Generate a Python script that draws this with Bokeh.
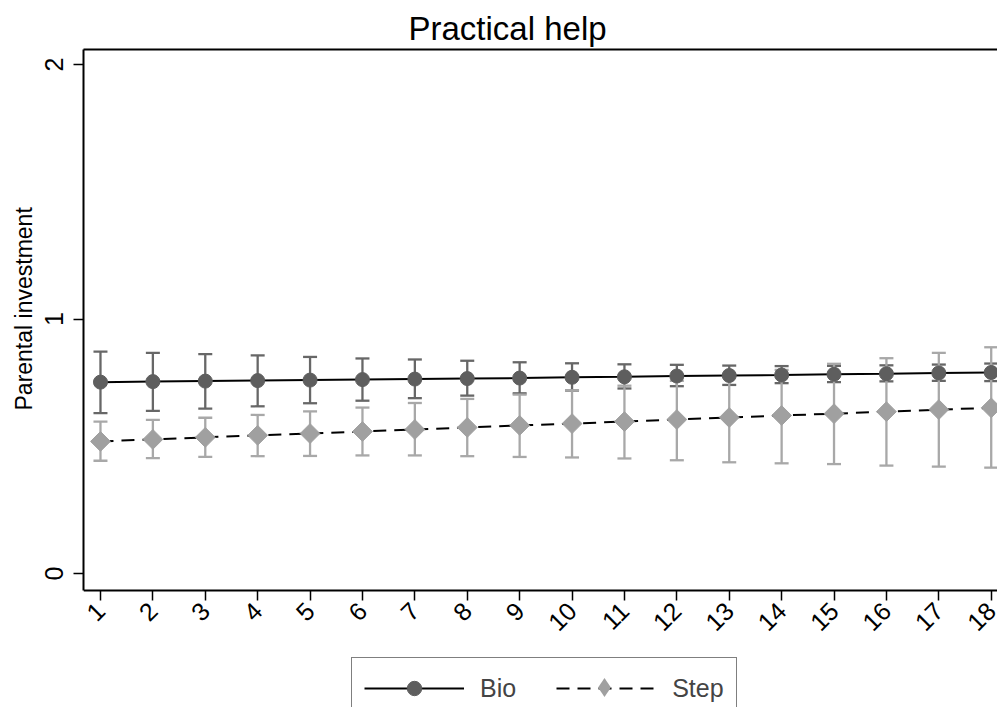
import math
from bokeh.plotting import figure
from bokeh.models import (ColumnDataSource, Range1d, FixedTicker, Whisker, TeeHead,
                          Legend, LegendItem, LinearAxis, Title)
from bokeh.embed import file_html
from bokeh.resources import INLINE

# ---- data ----
ages = list(range(1, 19))
tick_labels = [str(a) for a in ages]

bio_mean = [0.752, 0.754, 0.756, 0.758, 0.760, 0.762, 0.764, 0.766, 0.768,
            0.771, 0.773, 0.776, 0.778, 0.780, 0.783, 0.785, 0.788, 0.790]
bio_hi = [0.872, 0.867, 0.862, 0.857, 0.851, 0.845, 0.841, 0.836, 0.830,
          0.826, 0.822, 0.820, 0.817, 0.815, 0.816, 0.818, 0.821, 0.825]
bio_lo = [0.630, 0.639, 0.648, 0.657, 0.669, 0.679, 0.689, 0.699, 0.708,
          0.719, 0.727, 0.736, 0.741, 0.748, 0.752, 0.755, 0.757, 0.756]

step_mean = [0.519, 0.527, 0.535, 0.543, 0.550, 0.558, 0.566, 0.574, 0.582,
             0.589, 0.597, 0.605, 0.613, 0.621, 0.628, 0.636, 0.644, 0.651]
step_hi = [0.597, 0.604, 0.612, 0.623, 0.637, 0.652, 0.670, 0.686, 0.703,
           0.720, 0.738, 0.757, 0.778, 0.800, 0.824, 0.846, 0.867, 0.889]
step_lo = [0.443, 0.453, 0.458, 0.461, 0.462, 0.464, 0.464, 0.461, 0.458,
           0.456, 0.452, 0.445, 0.437, 0.433, 0.430, 0.424, 0.420, 0.416]

y_ticks = [0, 1, 2]
Y_MIN, Y_MAX = -0.067, 2.059      # plot region of the y axis
Y_VIEW_MIN = -0.5265               # lower end of the view (legend area)

FONT = "Liberation Sans"
BIO_MARK = "#5e5e5e"
BIO_BAR = "#676767"
STEP_MARK = "#a0a0a0"
STEP_BAR = "#a8a8a8"

bio_src = ColumnDataSource(dict(x=ages, y=bio_mean, lo=bio_lo, hi=bio_hi))
step_src = ColumnDataSource(dict(x=ages, y=step_mean, lo=step_lo, hi=step_hi))

p = figure(width=997, height=707, output_backend="svg", toolbar_location=None,
           title=None, x_range=Range1d(0.676, 18.12), y_range=Range1d(Y_VIEW_MIN, Y_MAX),
           min_border_left=83, min_border_top=49, min_border_bottom=0, min_border_right=0)
p.background_fill_color = "white"
p.border_fill_color = "white"
p.outline_line_color = None
p.grid.visible = False

# error bars
for src, col in ((bio_src, BIO_BAR), (step_src, STEP_BAR)):
    w = Whisker(base="x", lower="lo", upper="hi", source=src, line_color=col, line_width=2.3,
                lower_head=TeeHead(size=14, line_color=col, line_width=2.3),
                upper_head=TeeHead(size=14, line_color=col, line_width=2.3))
    p.add_layout(w)

bio_line = p.line("x", "y", source=bio_src, line_color="black", line_width=2)
bio_pts = p.scatter("x", "y", source=bio_src, marker="circle", size=14,
                    fill_color=BIO_MARK, line_color=BIO_MARK)
step_line = p.line("x", "y", source=step_src, line_color="black", line_width=2,
                   line_dash="13 8")
step_pts = p.scatter("x", "y", source=step_src, marker="square", size=14, angle=math.pi / 4,
                     fill_color=STEP_MARK, line_color=STEP_MARK)
# legend-only diamond symbol (zero size in the plot itself)
step_key = p.scatter("x", "y", source=step_src, marker="diamond", size=0,
                     fill_color=STEP_MARK, line_color=None)

# axes
xa = p.xaxis[0]
xa.ticker = FixedTicker(ticks=ages)
xa.major_label_overrides = {a: t for a, t in zip(ages, tick_labels)}
xa.major_label_orientation = math.pi / 4
xa.fixed_location = Y_MIN
ya = p.yaxis[0]
ya.ticker = FixedTicker(ticks=y_ticks)
ya.major_label_orientation = "vertical"
ya.bounds = (Y_MIN, Y_MAX)
for ax in (xa, ya):
    ax.axis_line_color = "black"
    ax.axis_line_width = 2
    ax.major_tick_line_color = "black"
    ax.major_tick_line_width = 1.5
    ax.major_tick_out = 10
    ax.major_tick_in = 0
    ax.minor_tick_line_color = None
    ax.major_label_text_font = FONT
    ax.major_label_text_font_size = "25px"
    ax.major_label_text_color = "black"
xa.major_label_standoff = 6
ya.major_label_standoff = 10

top_axis = LinearAxis(ticker=FixedTicker(ticks=[]), axis_line_color="black", axis_line_width=2,
                      major_tick_line_color=None, minor_tick_line_color=None,
                      major_label_text_font_size="0px", major_label_standoff=0)
p.add_layout(top_axis, "above")

title = Title(text="Practical help", align="left", offset=325, text_font=FONT,
              text_font_size="33px", text_font_style="normal", text_color="black",
              standoff=6)
p.add_layout(title, "above")

ylabel = Title(text="Parental investment", align="left", offset=297, text_font=FONT,
               text_font_size="23px", text_font_style="normal", text_color="black",
               standoff=11)
p.add_layout(ylabel, "left")

legend = Legend(items=[LegendItem(label="Bio", renderers=[bio_line, bio_pts]),
                       LegendItem(label="Step", renderers=[step_line])],
                location=(268, -12), orientation="horizontal",
                glyph_width=100, glyph_height=36, label_standoff=16, spacing=40,
                padding=12, margin=0, border_line_color="black", border_line_width=1.5,
                label_text_font=FONT, label_text_font_size="25px",
                background_fill_color="white", background_fill_alpha=1)
p.add_layout(legend)

# larger diamond key drawn over the Step legend line
key_legend = Legend(items=[LegendItem(label=" ", renderers=[step_key])],
                    location=(497, -4), orientation="horizontal",
                    glyph_width=48, glyph_height=48, label_standoff=0, spacing=0,
                    padding=0, margin=0, border_line_color=None,
                    background_fill_alpha=0, label_text_font_size="10px")
p.add_layout(key_legend)

open("out.html", "w").write(file_html(p, INLINE))
